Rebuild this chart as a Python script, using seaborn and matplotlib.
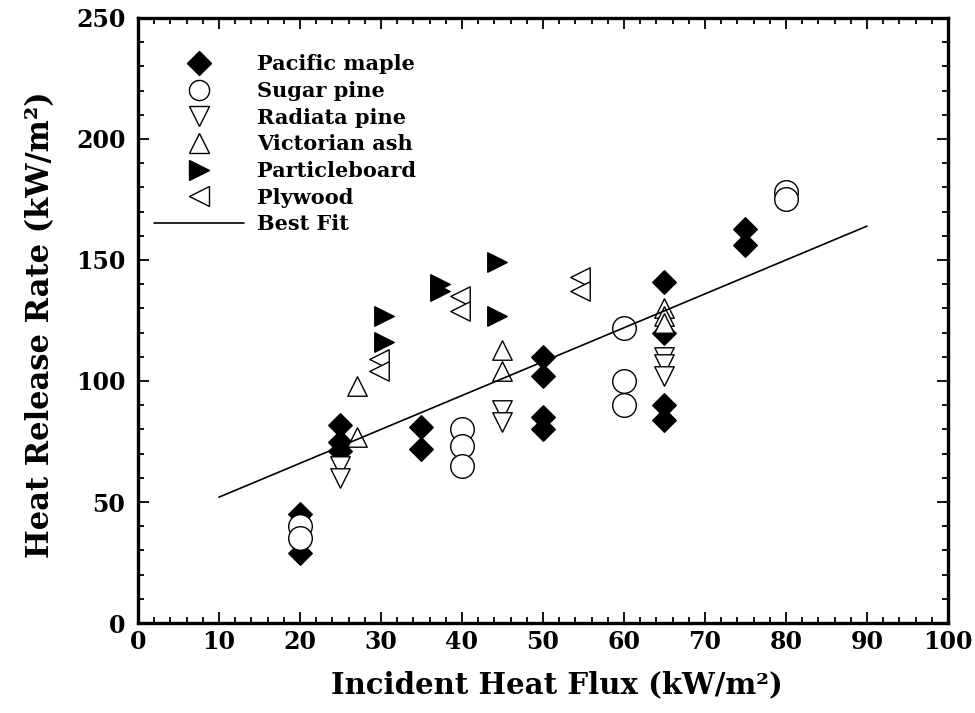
import matplotlib
matplotlib.use("Agg")
import matplotlib.pyplot as plt
from matplotlib.ticker import MultipleLocator
from matplotlib.lines import Line2D
import seaborn as sns
import pandas as pd

# ---- data ----
maple_x = [20, 20, 25, 25, 25, 35, 35, 50, 50, 50, 50, 65, 65, 65, 65, 75, 75]
maple_y = [45, 29, 82, 75, 71, 81, 72, 110, 102, 85, 80, 141, 120, 90, 84, 163, 156]

sugar_x = [20, 20, 40, 40, 40, 60, 60, 60, 80, 80]
sugar_y = [40, 35, 80, 73, 65, 122, 100, 90, 178, 175]

radiata_x = [25, 25, 45, 45, 65, 65, 65]
radiata_y = [65, 60, 88, 83, 110, 107, 102]

vicash_x = [27, 27, 45, 45, 65, 65, 65]
vicash_y = [98, 77, 113, 104, 130, 127, 124]

particle_x = [30.4, 30.4, 37.3, 37.3, 44.3, 44.3]
particle_y = [127, 116, 140, 137, 149, 127]

plywood_x = [29.8, 29.8, 39.7, 39.7, 54.6, 54.6]
plywood_y = [109, 104, 135, 129, 143, 137]

fit_x = [10, 90]
fit_y = [52, 164]

labels = ["Pacific maple", "Sugar pine", "Radiata pine", "Victorian ash",
          "Particleboard", "Plywood", "Best Fit"]

# ---- style ----
sns.set_style("ticks")
plt.rcParams["font.family"] = ["DejaVu Serif"]
plt.rcParams["font.weight"] = "bold"
for key in ["text.color", "axes.labelcolor", "xtick.color", "ytick.color",
            "axes.edgecolor"]:
    plt.rcParams[key] = "black"
WIDE = ["DejaVu Serif"]

fig = plt.figure(figsize=(9.75, 7.13), dpi=100)
ax = fig.add_axes([0.1415, 0.1262, 0.8308, 0.8486])

series = [
    (maple_x, maple_y, "D", 12, "black"),
    (radiata_x, radiata_y, "v", 14, "white"),
    (vicash_x, vicash_y, "^", 14, "white"),
    (particle_x, particle_y, ">", 14, "black"),
    (plywood_x, plywood_y, "<", 14, "white"),
    (sugar_x, sugar_y, "o", 17, "white"),
]
for xs, ys, mk, ms, fc in series:
    df = pd.DataFrame({"x": xs, "y": ys})
    sns.scatterplot(data=df, x="x", y="y", marker=mk, s=ms ** 2, color=fc,
                    edgecolor="black", linewidth=1.0, ax=ax, zorder=3,
                    legend=False)

fit_df = pd.DataFrame({"x": fit_x, "y": fit_y})
sns.lineplot(data=fit_df, x="x", y="y", color="black", linewidth=1.2,
             ax=ax, zorder=4)

ax.set_xlim(0, 100)
ax.set_ylim(0, 250)
ax.xaxis.set_major_locator(MultipleLocator(10))
ax.xaxis.set_minor_locator(MultipleLocator(2))
ax.yaxis.set_major_locator(MultipleLocator(50))
ax.yaxis.set_minor_locator(MultipleLocator(10))
ax.tick_params(which="both", direction="in", top=True, right=True,
               width=1.3, color="black", labelcolor="black")
ax.tick_params(which="major", length=8, labelsize=17)
ax.tick_params(axis="x", which="major", pad=5)
ax.tick_params(axis="y", which="major", pad=9)
ax.tick_params(which="minor", length=4)
for lab in ax.get_xticklabels() + ax.get_yticklabels():
    lab.set_fontweight("bold")
for sp in ax.spines.values():
    sp.set_linewidth(2.4)
    sp.set_color("black")

ax.set_xlabel("Incident Heat Flux (kW/m²)", fontsize=21, fontweight="bold",
              family=WIDE, labelpad=12)
ax.set_ylabel("Heat Release Rate (kW/m²)", fontsize=22, fontweight="bold",
              family=WIDE, labelpad=14)
ax.xaxis.label.set_x(0.517)
ax.yaxis.label.set_y(0.4925)

handles = [
    Line2D([], [], ls="none", marker="D", ms=12.5, mfc="black", mec="black"),
    Line2D([], [], ls="none", marker="o", ms=14.5, mfc="white", mec="black", mew=1),
    Line2D([], [], ls="none", marker="v", ms=15, mfc="white", mec="black", mew=1),
    Line2D([], [], ls="none", marker="^", ms=15, mfc="white", mec="black", mew=1),
    Line2D([], [], ls="none", marker=">", ms=14, mfc="black", mec="black"),
    Line2D([], [], ls="none", marker="<", ms=14.5, mfc="white", mec="black", mew=1),
    Line2D([], [], color="black", lw=1.2),
]
leg = ax.legend(handles, labels, loc="upper left", bbox_to_anchor=(0.02, 0.94),
                frameon=False, handlelength=4.3, handletextpad=0.62,
                labelspacing=0.32, borderpad=0, borderaxespad=0,
                prop={"family": WIDE, "weight": "bold", "size": 15})
for t in leg.get_texts():
    t.set_color("black")

fig.savefig("out.png", dpi=100)
